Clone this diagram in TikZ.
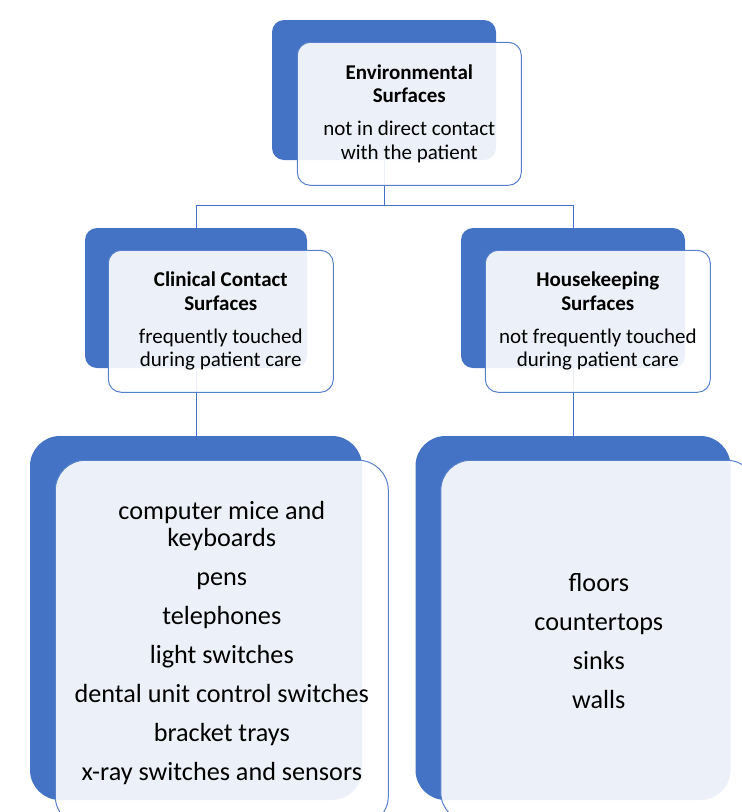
\documentclass[tikz,border=0pt]{standalone}
\usepackage{fontspec}
\setmainfont{Carlito}
\usetikzlibrary{positioning, calc}
\definecolor{accent}{HTML}{4472C4}

\begin{document}
\begin{tikzpicture}[
    x=1pt, y=-1pt,
    back/.style={rectangle, fill=accent, rounded corners=12pt, inner sep=0pt},
    front/.style={rectangle, draw=accent!90, line width=1pt, fill=white, fill opacity=0.9,
                  text opacity=1, rounded corners=13pt, align=center, inner sep=0pt,
                  font=\fontsize{21}{23.5}\selectfont},
    big/.style={rounded corners=30pt, font=\fontsize{26.2}{27}\selectfont},
    link/.style={draw=accent, line width=1pt},
  ]
  \useasboundingbox (0,0) rectangle (742,812);

  % hintere Flaechen
  \node[back, minimum width=224pt, minimum height=140pt] (envb) at (384,90) {};
  \node[back, minimum width=222pt, minimum height=140pt] (clinb) at (196,298) {};
  \node[back, minimum width=224pt, minimum height=140pt] (houseb) at (573,298) {};
  \node[back, big, minimum width=332pt, minimum height=364pt] (careb) at (196,618) {};
  \node[back, big, minimum width=315pt, minimum height=364pt] (roomb) at (573,618) {};

  % Verbinder
  \coordinate (split) at (384,205);
  \draw[link] (envb.south) -- (split);
  \draw[link] (split) -| (clinb.north);
  \draw[link] (split) -| (houseb.north);
  \draw[link] (clinb.south) -- (careb.north);
  \draw[link] (houseb.south) -- (roomb.north);

  % vordere Flaechen
  \node[front, anchor=north west, minimum width=224pt, minimum height=143pt] (envf)
    at ([shift={(25pt,-22pt)}]envb.north west)
    {\textbf{Environmental}\\\textbf{Surfaces}\\[9.5pt]not in direct contact\\with the patient};
  \node[front, anchor=north west, minimum width=225pt, minimum height=142pt] (clinf)
    at ([shift={(23pt,-22pt)}]clinb.north west)
    {\textbf{Clinical Contact}\\\textbf{Surfaces}\\[9.5pt]frequently touched\\during patient care};
  \node[front, anchor=north west, minimum width=225pt, minimum height=142pt] (housef)
    at ([shift={(24pt,-22pt)}]houseb.north west)
    {\textbf{Housekeeping}\\\textbf{Surfaces}\\[9.5pt]not frequently touched\\during patient care};
  \node[front, big, anchor=north west, minimum width=333pt, minimum height=366pt] (caref)
    at ([shift={(25pt,-24pt)}]careb.north west)
    {computer mice and\\keyboards\\[12pt]pens\\[12pt]telephones\\[12pt]light switches\\[12pt]%
     dental unit control switches\\[12pt]bracket trays\\[12pt]x-ray switches and sensors};
  \node[front, big, anchor=north west, minimum width=316pt, minimum height=362pt] (roomf)
    at ([shift={(25pt,-24pt)}]roomb.north west)
    {floors\\[12pt]countertops\\[12pt]sinks\\[12pt]walls};
\end{tikzpicture}
\end{document}
